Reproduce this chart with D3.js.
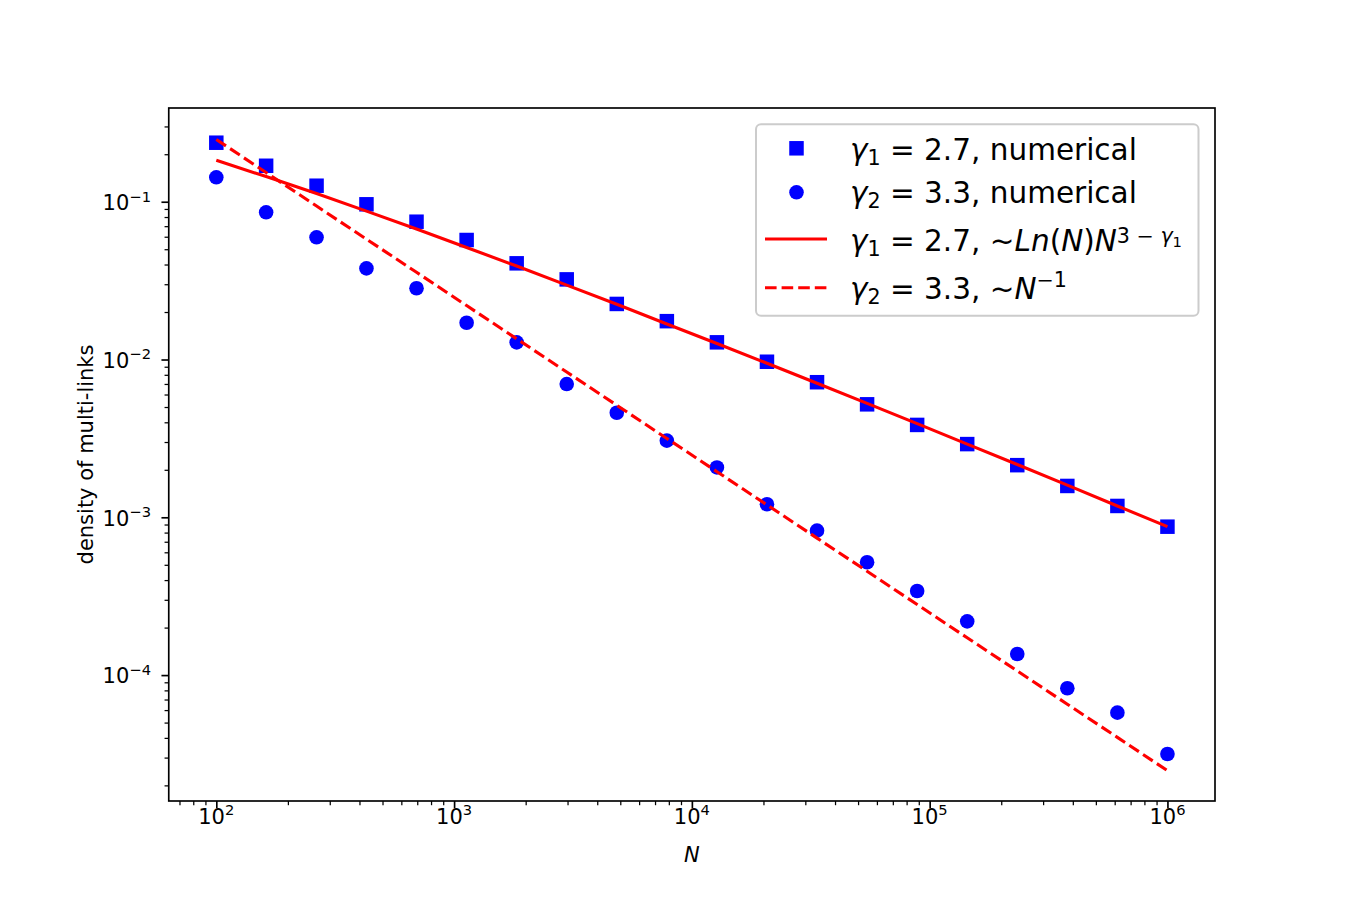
<!DOCTYPE html>
<html>
<head>
<meta charset="utf-8">
<script src="https://cdn.jsdelivr.net/npm/d3@7"></script>
<style>
  body { margin: 0; background: #fff; }
  text { font-family: "DejaVu Sans", sans-serif; fill: #000; }
</style>
</head>
<body>
<script>
// data
var nValues = [100, 162, 264, 428, 695, 1129, 1833, 2976, 4833, 7848,
    12743, 20691, 33598, 54556, 88587, 143845, 233572, 379269, 615848, 1000000];

var gamma1Numerical = [0.2366, 0.169, 0.1263, 0.0963, 0.0747, 0.0572, 0.0407, 0.0322, 0.0225, 0.0175,
    0.01285, 0.00968, 0.00718, 0.0052, 0.00385, 0.00291, 0.00214, 0.00158, 0.00118, 0.000872];

var gamma2Numerical = [0.1428, 0.0857, 0.0595, 0.0378, 0.0283, 0.0171, 0.01285, 0.00699, 0.0046, 0.00306,
    0.00207, 0.00121, 0.000823, 0.000519, 0.000341, 0.000219, 0.000136, 8.25e-5, 5.78e-5, 3.16e-5];

var gamma1Fit = [0.1833, 0.1443, 0.1126, 0.0872, 0.0671, 0.0513, 0.0391, 0.0296, 0.0224, 0.0168,
    0.01264, 0.00947, 0.00707, 0.00527, 0.00392, 0.00291, 0.00216, 0.0016, 0.00118, 0.000872];

var gamma2Fit = [0.248, 0.1531, 0.0939, 0.0579, 0.0357, 0.02197, 0.01353, 0.00833, 0.00513, 0.00316,
    0.001946, 0.001199, 0.000738, 0.000455, 0.00028, 0.0001724, 0.0001062, 6.54e-5, 4.03e-5, 2.48e-5];

var xMajor = [1e2, 1e3, 1e4, 1e5, 1e6];
var xExp = ["2", "3", "4", "5", "6"];
var yMajor = [1e-1, 1e-2, 1e-3, 1e-4];
var yExp = ["\u22121", "\u22122", "\u22123", "\u22124"];

var width = 1350;
var height = 900;
// note: "top" is taken by window.top, so prefix the margins
var mLeft = 168.75, mRight = 1215, mTop = 108, mBottom = 801;

var svg = d3.select("body")
    .append("svg")
    .attr("width", width)
    .attr("height", height);

var x = d3.scaleLog()
    .domain([Math.pow(10, 1.8), Math.pow(10, 6.2)])
    .range([mLeft, mRight]);

var y = d3.scaleLog()
    .domain([Math.pow(10, -4.798), Math.pow(10, -0.406)])
    .range([mBottom, mTop]);

// minor ticks 2..9 x 10^k inside the domain
function minors(scale, lo, hi) {
    var out = [];
    var d = scale.domain();
    for (var k = lo; k <= hi; k++) {
        for (var m = 2; m <= 9; m++) {
            var v = m * Math.pow(10, k);
            if (v >= d[0] && v <= d[1]) out.push(v);
        }
    }
    return out;
}

function styleTicks(w) {
    return function(a) {
        a.select(".domain").remove();
        a.selectAll("line").attr("stroke", "#000").attr("stroke-width", w);
    };
}

var g = svg.append("g");

// minor + major ticks
g.append("g")
    .attr("transform", "translate(0," + mBottom + ")")
    .call(d3.axisBottom(x).tickValues(minors(x, 1, 6)).tickSize(4.2).tickFormat(""))
    .call(styleTicks(1.25));
g.append("g")
    .attr("transform", "translate(0," + mBottom + ")")
    .call(d3.axisBottom(x).tickValues(xMajor).tickSize(7.3).tickFormat(""))
    .call(styleTicks(1.67));
g.append("g")
    .attr("transform", "translate(" + mLeft + ",0)")
    .call(d3.axisLeft(y).tickValues(minors(y, -5, -1)).tickSize(4.2).tickFormat(""))
    .call(styleTicks(1.25));
g.append("g")
    .attr("transform", "translate(" + mLeft + ",0)")
    .call(d3.axisLeft(y).tickValues(yMajor).tickSize(7.3).tickFormat(""))
    .call(styleTicks(1.67));

// tick labels 10^k
g.selectAll(".xlab")
    .data(xMajor)
    .enter().append("text")
    .attr("class", "xlab")
    .attr("x", function(d) { return x(d); })
    .attr("y", 823.5)
    .attr("text-anchor", "middle")
    .attr("font-size", 21)
    .each(function(d, i) {
        var t = d3.select(this);
        t.append("tspan").text("10");
        t.append("tspan").attr("font-size", 14.7).attr("dy", -8.5).text(xExp[i]);
    });

g.selectAll(".ylab")
    .data(yMajor)
    .enter().append("text")
    .attr("class", "ylab")
    .attr("x", 151)
    .attr("y", function(d) { return y(d) + 8.3; })
    .attr("text-anchor", "end")
    .attr("font-size", 21)
    .each(function(d, i) {
        var t = d3.select(this);
        t.append("tspan").text("10");
        t.append("tspan").attr("font-size", 14.7).attr("dy", -8.5).text(yExp[i]);
    });

// axis titles
g.append("text")
    .attr("x", x(Math.pow(10, 4)))
    .attr("y", 862)
    .attr("text-anchor", "middle")
    .attr("font-size", 21)
    .attr("font-style", "italic")
    .text("N");

g.append("text")
    .attr("transform", "translate(93," + ((mTop + mBottom) / 2) + ") rotate(-90)")
    .attr("text-anchor", "middle")
    .attr("font-size", 21)
    .text("density of multi-links");

// data markers
var sq = 14.5;
g.selectAll(".sq")
    .data(nValues)
    .enter().append("rect")
    .attr("class", "sq")
    .attr("x", function(d) { return x(d) - sq / 2; })
    .attr("y", function(d, i) { return y(gamma1Numerical[i]) - sq / 2; })
    .attr("width", sq)
    .attr("height", sq)
    .attr("fill", "#0000ff");

g.selectAll(".dot")
    .data(nValues)
    .enter().append("circle")
    .attr("class", "dot")
    .attr("cx", function(d) { return x(d); })
    .attr("cy", function(d, i) { return y(gamma2Numerical[i]); })
    .attr("r", 7.3)
    .attr("fill", "#0000ff");

// fit lines
var line1 = d3.line()
    .x(function(d) { return x(d); })
    .y(function(d, i) { return y(gamma1Fit[i]); });
var line2 = d3.line()
    .x(function(d) { return x(d); })
    .y(function(d, i) { return y(gamma2Fit[i]); });

g.append("path")
    .datum(nValues)
    .attr("d", line1)
    .attr("fill", "none")
    .attr("stroke", "#ff0000")
    .attr("stroke-width", 3.1);

g.append("path")
    .datum(nValues)
    .attr("d", line2)
    .attr("fill", "none")
    .attr("stroke", "#ff0000")
    .attr("stroke-width", 3.1)
    .attr("stroke-dasharray", "11.6,5");

// frame
g.append("rect")
    .attr("x", mLeft)
    .attr("y", mTop)
    .attr("width", mRight - mLeft)
    .attr("height", mBottom - mTop)
    .attr("fill", "none")
    .attr("stroke", "#000")
    .attr("stroke-width", 1.67);

// legend
var lg = g.append("g");
lg.append("rect")
    .attr("x", 756)
    .attr("y", 124.3)
    .attr("width", 442.5)
    .attr("height", 191.5)
    .attr("rx", 5)
    .attr("fill", "#fff")
    .attr("fill-opacity", 0.8)
    .attr("stroke", "#cccccc")
    .attr("stroke-width", 2);

var rows = [159.5, 203, 251, 299];
var hx = 796.5;
var fs = 29.5;

lg.append("rect")
    .attr("x", hx - sq / 2).attr("y", 148.3 - sq / 2)
    .attr("width", sq).attr("height", sq)
    .attr("fill", "#0000ff");
lg.append("circle")
    .attr("cx", hx).attr("cy", 192.3).attr("r", 7.3)
    .attr("fill", "#0000ff");
lg.append("line")
    .attr("x1", 765).attr("x2", 827).attr("y1", 239).attr("y2", 239)
    .attr("stroke", "#ff0000").attr("stroke-width", 3.1);
lg.append("line")
    .attr("x1", 765).attr("x2", 827).attr("y1", 287.7).attr("y2", 287.7)
    .attr("stroke", "#ff0000").attr("stroke-width", 3.1)
    .attr("stroke-dasharray", "11.6,5");

// each part: text, italic, size scale, baseline offset (negative = up)
var labels = [
    [["\u03b3", 1, 1, 0], ["1", 0, 0.7, 5], [" = 2.7, numerical", 0, 1, 0]],
    [["\u03b3", 1, 1, 0], ["2", 0, 0.7, 5], [" = 3.3, numerical", 0, 1, 0]],
    [["\u03b3", 1, 1, 0], ["1", 0, 0.7, 5], [" = 2.7, ", 0, 1, 0], ["\u223c", 0, 1, 0],
     ["Ln", 1, 1, 0], ["(", 0, 1, 0], ["N", 1, 1, 0], [")", 0, 1, 0], ["N", 1, 1, 0],
     ["3 \u2212 ", 0, 0.7, -8], ["\u03b3", 1, 0.7, -8], ["1", 0, 0.5, -4]],
    [["\u03b3", 1, 1, 0], ["2", 0, 0.7, 5], [" = 3.3, ", 0, 1, 0], ["\u223c", 0, 1, 0],
     ["N", 1, 1, 0], ["\u22121", 0, 0.7, -12]]
];

labels.forEach(function(parts, r) {
    var t = lg.append("text")
        .attr("x", 850)
        .attr("y", rows[r])
        .attr("font-size", fs);
    var prev = 0;
    parts.forEach(function(p) {
        t.append("tspan")
            .attr("font-style", p[1] ? "italic" : "normal")
            .attr("font-size", fs * p[2])
            .attr("dy", p[3] - prev)
            .text(p[0]);
        prev = p[3];
    });
});
</script>
</body>
</html>
